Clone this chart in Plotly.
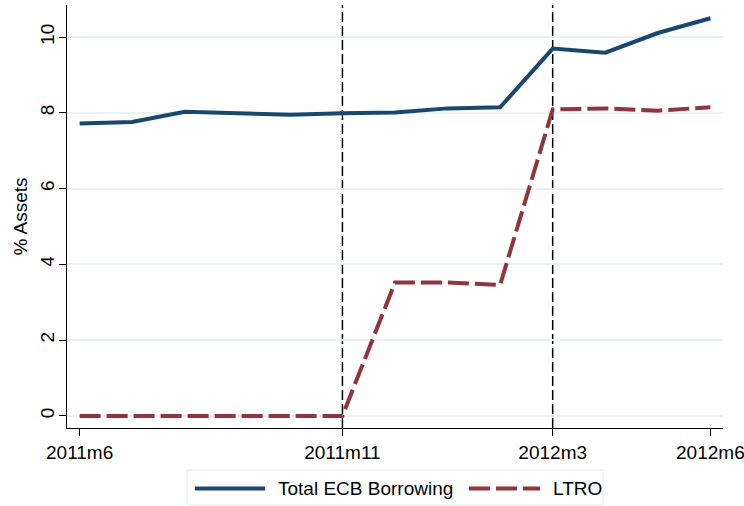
import plotly.graph_objects as go

months = ["2011m6", "2011m7", "2011m8", "2011m9", "2011m10", "2011m11", "2011m12",
          "2012m1", "2012m2", "2012m3", "2012m4", "2012m5", "2012m6"]
total_ecb = [7.72, 7.76, 8.03, 7.99, 7.95, 7.99, 8.01, 8.12, 8.15, 9.70, 9.59, 10.11, 10.50]
ltro = [0, 0, 0, 0, 0, 0, 3.52, 3.52, 3.46, 8.09, 8.12, 8.06, 8.15]
tick_labels = ["2011m6", "2011m11", "2012m3", "2012m6"]
event_months = ["2011m11", "2012m3"]
y_ticks = [0, 2, 4, 6, 8, 10]
series_names = ["Total ECB Borrowing", "LTRO"]

BLUE = "#1a476f"
RED = "#90353b"
DASH = "21px,6px"
FONT = "Liberation Sans, Arial, sans-serif"
FS = 19

W, H = 744, 506
ML, MR, MT, MB = 67, 21, 5, 78
PW, PH = W - ML - MR, H - MT - MB

def px(xp):
    return (xp - ML) / PW

def py(yp):
    return (H - MB - yp) / PH

xs = list(range(len(months)))
tick_pos = [months.index(m) for m in tick_labels]
event_pos = [months.index(m) for m in event_months]

fig = go.Figure()
fig.add_trace(go.Scatter(x=xs, y=total_ecb, mode="lines", name=series_names[0],
                         line=dict(color=BLUE, width=4)))
fig.add_trace(go.Scatter(x=xs, y=ltro, mode="lines", name=series_names[1],
                         line=dict(color=RED, width=4, dash=DASH)))

for p in event_pos:
    fig.add_shape(type="line", xref="x", yref="paper", x0=p, x1=p, y0=0, y1=1,
                  line=dict(color="black", width=1.5, dash="10px,4px"), layer="between")

# legend box (drawn manually to match the reference layout)
fig.add_shape(type="rect", xref="paper", yref="paper", x0=px(187), x1=px(603),
              y0=py(505), y1=py(470), line=dict(color="#e3ecee", width=1),
              fillcolor="white", layer="above")
fig.add_shape(type="line", xref="paper", yref="paper", x0=px(195), x1=px(265),
              y0=py(488.5), y1=py(488.5), line=dict(color=BLUE, width=4), layer="above")
fig.add_shape(type="line", xref="paper", yref="paper", x0=px(469), x1=px(540),
              y0=py(488.5), y1=py(488.5), line=dict(color=RED, width=4, dash=DASH), layer="above")
fig.add_annotation(xref="paper", yref="paper", x=px(276), y=py(488), xanchor="left",
                   yanchor="middle", text=series_names[0], showarrow=False,
                   font=dict(size=FS, family=FONT, color="black"))
fig.add_annotation(xref="paper", yref="paper", x=px(551), y=py(488), xanchor="left",
                   yanchor="middle", text=series_names[1], showarrow=False,
                   font=dict(size=FS, family=FONT, color="black"))

fig.update_layout(
    width=W, height=H,
    margin=dict(l=ML, r=MR, t=MT, b=MB, autoexpand=False),
    plot_bgcolor="white", paper_bgcolor="white",
    font=dict(family=FONT, size=FS, color="black"),
    showlegend=False,
    xaxis=dict(range=[-0.24, 12.24], tickmode="array", tickvals=tick_pos, ticktext=tick_labels,
               showgrid=False, zeroline=False, showline=True, linecolor="black", linewidth=1,
               ticks="outside", ticklen=7, tickcolor="black", tickfont=dict(size=FS),
               automargin=False, ticklabeloverflow="allow"),
    yaxis=dict(range=[-0.32, 10.85], tickmode="array", tickvals=y_ticks, tickangle=-90,
               showgrid=True, gridcolor="#eaf2f3", gridwidth=1.5, zeroline=False,
               showline=True, linecolor="black", linewidth=1,
               ticks="outside", ticklen=7, tickcolor="black", tickfont=dict(size=FS),
               ticklabelstandoff=-3,
               title=dict(text="% Assets", font=dict(size=FS), standoff=4),
               automargin=False),
)

fig.write_html("out.html")
